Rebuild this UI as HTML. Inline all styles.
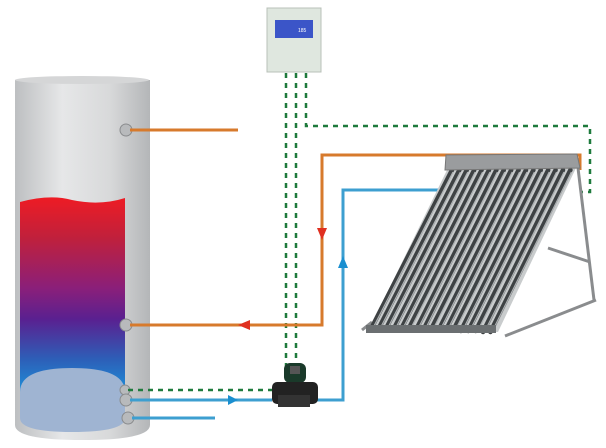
<!DOCTYPE html>
<html><head><style>body{margin:0;background:#fff}svg{display:block}</style></head><body>
<svg width="606" height="448" viewBox="0 0 606 448" xmlns="http://www.w3.org/2000/svg">
<defs>
<linearGradient id="tank" x1="0" x2="1"><stop offset="0" stop-color="#bdbfc1"/><stop offset="0.35" stop-color="#e6e7e8"/><stop offset="0.7" stop-color="#d8d9da"/><stop offset="1" stop-color="#b4b6b8"/></linearGradient>
<linearGradient id="water" x1="0" y1="0" x2="0" y2="1"><stop offset="0" stop-color="#ee1c24"/><stop offset="0.2" stop-color="#c0203c"/><stop offset="0.45" stop-color="#8a1f7a"/><stop offset="0.6" stop-color="#5a2090"/><stop offset="0.8" stop-color="#2d5fb8"/><stop offset="1" stop-color="#1a9be0"/></linearGradient>
</defs>
<!-- tank -->
<path d="M15 80 H150 V425 Q150 440 82 440 Q15 440 15 425 Z" fill="url(#tank)"/>
<ellipse cx="82" cy="80" rx="67" ry="4" fill="#d5d6d7"/>
<path d="M20 202 Q50 194 72 200 Q100 206 125 198 L125 400 L20 400 Z" fill="url(#water)"/>
<path d="M20 392 Q20 368 72 368 Q125 368 125 392 V418 Q125 432 72 432 Q20 432 20 418 Z" fill="#9fb4d2"/>
<!-- ports -->
<g fill="#b8babc" stroke="#8a8c8e"><circle cx="126" cy="130" r="6"/><circle cx="126" cy="325" r="6"/><circle cx="125" cy="390" r="5"/><circle cx="126" cy="400" r="6"/><circle cx="128" cy="418" r="6"/></g>
<!-- controller -->
<rect x="267" y="8" width="54" height="64" fill="#dfe7df" stroke="#b8c0b8"/>
<rect x="275" y="20" width="38" height="18" fill="#3b55c8"/>
<text x="298" y="32" font-family="Liberation Sans,sans-serif" font-size="5" fill="#fff">185</text>
<!-- green dashed -->
<g fill="none" stroke="#1e7a3c" stroke-width="2.5" stroke-dasharray="5,5">
<path d="M286 73 V390 H128"/>
<path d="M296 73 V380"/>
<path d="M306 73 V126 H590 V192 H580"/>
</g>
<!-- orange -->
<g fill="none" stroke="#d77a2c" stroke-width="3">
<path d="M130 130 H238"/>
<path d="M580 170 V155 H322 V325 H130"/>
</g>
<polygon points="317,228 327,228 322,240" fill="#e03020"/>
<polygon points="238,325 250,320 250,330" fill="#e03020"/>
<!-- blue -->
<g fill="none" stroke="#3d9fd0" stroke-width="3">
<path d="M130 400 H272"/>
<path d="M316 400 H343 V190 H447"/>
<path d="M132 418 H215"/>
</g>
<polygon points="238,400 228,395 228,405" fill="#1a8fd0"/>
<polygon points="343,256 338,268 348,268" fill="#1a8fd0"/>
<!-- pump -->
<rect x="284" y="363" width="22" height="20" rx="6" fill="#1a3a2a"/>
<rect x="290" y="366" width="10" height="8" fill="#555"/>
<rect x="272" y="382" width="46" height="22" rx="5" fill="#222"/>
<rect x="278" y="395" width="32" height="12" fill="#333"/>
<!-- collector frame -->
<g stroke="#8a8c8e" stroke-width="3" fill="none">
<path d="M578 168 L594 300"/><path d="M505 336 L596 300"/><path d="M548 248 L590 262"/><path d="M362 330 L372 322"/>
</g>
<polygon points="448,168 576,168 498,332 368,332" fill="#c9cccd"/>
<!-- tubes -->
<g stroke="#3e4244" stroke-width="4.5" stroke-linecap="round">
<path d="M452 170 L372 327"/><path d="M459.4 170 L379.4 327"/><path d="M466.8 170 L386.8 327"/><path d="M474.2 170 L394.2 328"/><path d="M481.6 170 L401.6 328"/><path d="M489 170 L409 328"/><path d="M496.4 170 L416.4 329"/><path d="M503.8 170 L423.8 329"/><path d="M511.2 170 L431.2 329"/><path d="M518.6 170 L438.6 330"/><path d="M526 170 L446 330"/><path d="M533.4 170 L453.4 330"/><path d="M540.8 170 L460.8 331"/><path d="M548.2 170 L468.2 331"/><path d="M555.6 170 L475.6 331"/><path d="M563 170 L483 332"/><path d="M570.4 170 L490.4 332"/>
</g>
<g stroke="#aeb2b4" stroke-width="1.2">
<path d="M453 172 L374 326"/><path d="M460.4 172 L381.4 326"/><path d="M467.8 172 L388.8 326"/><path d="M475.2 172 L396.2 327"/><path d="M482.6 172 L403.6 327"/><path d="M490 172 L411 328"/><path d="M497.4 172 L418.4 328"/><path d="M504.8 172 L425.8 328"/><path d="M512.2 172 L433.2 329"/><path d="M519.6 172 L440.6 329"/><path d="M527 172 L448 329"/><path d="M534.4 172 L455.4 330"/><path d="M541.8 172 L462.8 330"/><path d="M549.2 172 L470.2 330"/><path d="M556.6 172 L477.6 331"/><path d="M564 172 L485 331"/><path d="M571.4 172 L492.4 331"/>
</g>
<rect x="366" y="325" width="130" height="8" fill="#6b6f71"/>
<polygon points="446,155 577,154 580,168 445,170" fill="#9a9c9e" stroke="#777"/>
</svg>
</body></html>
